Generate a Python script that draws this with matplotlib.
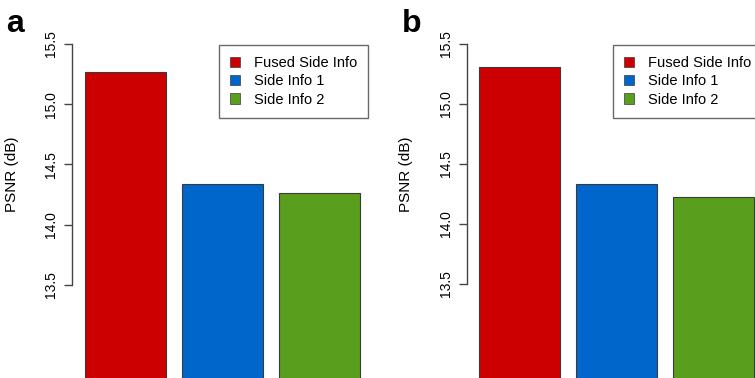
import matplotlib
matplotlib.use("Agg")
import matplotlib.pyplot as plt

labels = ['Fused Side Info', 'Side Info 1', 'Side Info 2']
colors = ['#cc0000', '#0066cc', '#5a9e1e']
psnr_a = [15.27, 14.335, 14.265]
psnr_b = [15.31, 14.335, 14.228]
yticks = [13.5, 14.0, 14.5, 15.0, 15.5]
panels = ['a', 'b']

plt.rcParams['font.family'] = ['Liberation Sans', 'DejaVu Sans']

W, H = 755, 378
fig = plt.figure(figsize=(W / 100, H / 100), dpi=100)

# pixel layout per panel: spine x, axes right edge, xlim left, ylim
layouts = [
    dict(left=72, right=378, x0=0.04, ylim=(12.728, 15.865), lab_x=15, ylab_x=12, leg_x=219),
    dict(left=467, right=755, x0=0.052, ylim=(12.717, 15.867), lab_x=412, ylab_x=406, leg_x=613),
]

xs = [0.7, 1.9, 3.1]
for vals, lay, tag in zip([psnr_a, psnr_b], layouts, panels):
    ax = fig.add_axes([lay['left'] / W, 0, (lay['right'] - lay['left']) / W, 1])
    ax.patch.set_alpha(0)
    ax.bar(xs, vals, width=1.0, bottom=0, color=colors,
           edgecolor='#3a3a3a', linewidth=0.8)
    ax.set_xlim(lay['x0'], lay['x0'] + (lay['right'] - lay['left']) / 81)
    ax.set_ylim(*lay['ylim'])
    for s in ['top', 'right', 'bottom']:
        ax.spines[s].set_visible(False)
    ax.spines['left'].set_bounds(13.5, 15.5)
    ax.spines['left'].set_color('#444444')
    ax.spines['left'].set_linewidth(1.0)
    ax.set_xticks([])
    ax.set_yticks(yticks)
    ax.set_yticklabels([f'{t:.1f}' for t in yticks], rotation=90, va='center',
                       fontsize=10)
    ax.tick_params(axis='y', length=6, width=1.0, color='#444444', pad=4)

    handles = [plt.Rectangle((0, 0), 1, 1, facecolor=c, edgecolor='#3a3a3a', linewidth=0.5)
               for c in colors]
    leg = ax.legend(handles, labels, loc='upper left',
                    bbox_to_anchor=(lay['leg_x'] / W, 1 - 45 / H),
                    bbox_transform=fig.transFigure, fontsize=10.5, frameon=True,
                    fancybox=False, borderpad=0.75, labelspacing=0.3,
                    handlelength=0.7, handleheight=0.7, handletextpad=0.95,
                    borderaxespad=0)
    leg.get_frame().set_edgecolor('#444444')
    leg.get_frame().set_linewidth(1.0)

    fig.text(lay['ylab_x'] / W, 1 - 174 / H, 'PSNR (dB)', rotation=90,
             ha='center', va='center', fontsize=11)
    fig.text(lay['lab_x'] / W, 1 - 32 / H, tag, ha='center', va='baseline',
             fontsize=23, fontweight='bold')

fig.savefig('out.png', dpi=100)
